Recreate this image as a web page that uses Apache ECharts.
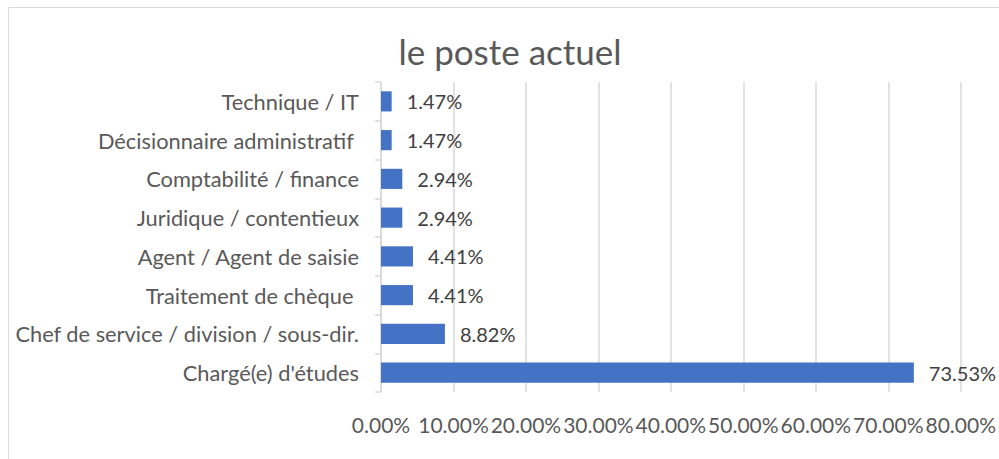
<!DOCTYPE html>
<html>
<head>
<meta charset="utf-8">
<script src="https://cdn.jsdelivr.net/npm/echarts@6/dist/echarts.min.js"></script>
<style>
  html, body { margin: 0; padding: 0; background: #fff; }
  #chart { width: 999px; height: 459px; }
</style>
</head>
<body>
<div id="chart"></div>
<script>
// données (de haut en bas)
const categories = [
  'Technique / IT',
  'Décisionnaire administratif ',
  'Comptabilité / finance',
  'Juridique / contentieux',
  'Agent / Agent de saisie',
  'Traitement de chèque ',
  'Chef de service / division / sous-dir.',
  "Chargé(e) d'études"
];
const values = [1.47, 1.47, 2.94, 2.94, 4.41, 4.41, 8.82, 73.53];
const xTicks = [0, 10, 20, 30, 40, 50, 60, 70, 80];

const FONT = 'Lato, "Open Sans", sans-serif';
const chart = echarts.init(document.getElementById('chart'), null, { renderer: 'svg' });

chart.setOption({
  animation: false,
  textStyle: { fontFamily: FONT },
  title: {
    text: 'le poste actuel',
    left: 505,
    top: 28,
    textAlign: 'center',
    textStyle: { fontSize: 35, fontWeight: 'normal', color: '#595959', fontFamily: FONT }
  },
  graphic: [{
    type: 'rect',
    shape: { x: 8.5, y: 7.5, width: 1100, height: 500 },
    style: { fill: 'none', stroke: '#d9d9d9', lineWidth: 1 },
    silent: true
  }],
  grid: { left: 381, right: 37, top: 82, bottom: 67 },
  xAxis: {
    type: 'value',
    min: xTicks[0],
    max: xTicks[xTicks.length - 1],
    interval: 10,
    axisLine: { show: false },
    axisTick: { show: false },
    splitLine: { lineStyle: { color: '#d9d9d9', width: 1.5 } },
    axisLabel: {
      margin: 22,
      fontSize: 21,
      color: '#595959',
      formatter: v => v.toFixed(2) + '%'
    }
  },
  yAxis: {
    type: 'category',
    inverse: true,
    data: categories,
    axisLine: { lineStyle: { color: '#d9d9d9', width: 1.5 } },
    axisTick: { show: true, length: 6, lineStyle: { color: '#d9d9d9', width: 1.5 } },
    axisLabel: { margin: 22, fontSize: 21.8, color: '#595959' }
  },
  series: [{
    type: 'bar',
    data: values,
    barCategoryGap: '48%',
    itemStyle: { color: '#4472c4' },
    label: {
      show: true,
      position: 'right',
      distance: 15,
      fontSize: 20,
      color: '#404040',
      formatter: p => p.value.toFixed(2) + '%'
    }
  }]
});
</script>
</body>
</html>
